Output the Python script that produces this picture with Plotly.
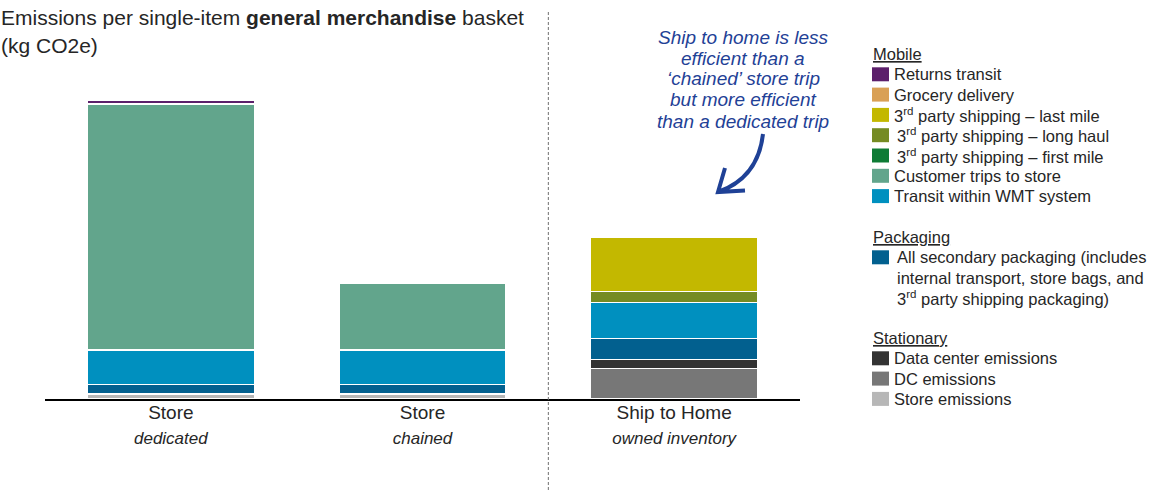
import plotly.graph_objects as go

# ---------------- data ----------------
categories = ["Store dedicated", "Store chained", "Ship to Home"]
cat_main = ["Store", "Store", "Ship to Home"]
cat_sub = ["dedicated", "chained", "owned inventory"]

# series listed bottom -> top of stack (kg CO2e)
store_emissions = [0.05, 0.05, None]
dc_emissions = [None, None, 0.307]
data_center = [None, None, 0.09]
packaging = [0.095, 0.095, 0.207]
transit_wmt = [0.345, 0.345, 0.358]
customer_trips = [2.46, 0.667, None]
ship_first_mile = [None, None, None]
ship_long_haul = [None, None, 0.11]
ship_last_mile = [None, None, 0.543]
grocery_delivery = [None, None, None]
returns_transit = [0.04, None, None]

series = [
    ("Store emissions", store_emissions, "#b7b7b7", "Stationary"),
    ("DC emissions", dc_emissions, "#777777", "Stationary"),
    ("Data center emissions", data_center, "#333333", "Stationary"),
    ("All secondary packaging (includes<br>internal transport, store bags, and<br>3<sup>rd</sup> party shipping packaging)",
     packaging, "#02608f", "Packaging"),
    ("Transit within WMT system", transit_wmt, "#0090bf", "Mobile"),
    ("Customer trips to store", customer_trips, "#62a58c", "Mobile"),
    ("3<sup>rd</sup> party shipping – first mile", ship_first_mile, "#0e7b35", "Mobile"),
    ("3<sup>rd</sup> party shipping – long haul", ship_long_haul, "#758b23", "Mobile"),
    ("3<sup>rd</sup> party shipping – last mile", ship_last_mile, "#c3b800", "Mobile"),
    ("Grocery delivery", grocery_delivery, "#d9a055", "Mobile"),
    ("Returns transit", returns_transit, "#5c1f6b", "Mobile"),
]
legend_groups = ["Mobile", "Packaging", "Stationary"]

TXT = "#262626"
FONT = "Arial, Liberation Sans, sans-serif"

fig = go.Figure()
for name, vals, color, grp in series:
    fig.add_trace(go.Bar(
        x=categories, y=vals, name=name.replace("<br>", " "),
        marker=dict(color=color, line=dict(color="white", width=1.2)),
        legendgroup=grp, showlegend=False,
    ))

# plot area geometry (pixels) used for decorations
L, R, T, B = 45, 361, 10, 91
W = 1161 - L - R
H = 490 - T - B


def px(xp):
    return (xp - L) / W


def py(yp):
    return (490 - B - yp) / H


ticktext = [f"{m}<br><span style='font-size:17px'><i>{s}</i></span>" for m, s in zip(cat_main, cat_sub)]

fig.update_layout(
    width=1161, height=490,
    margin=dict(l=L, r=R, t=T, b=B),
    barmode="stack", bargap=0.337,
    plot_bgcolor="white", paper_bgcolor="white",
    font=dict(family=FONT, color=TXT, size=16),
    showlegend=False,
    xaxis=dict(
        tickmode="array", tickvals=categories, ticktext=ticktext,
        showline=True, linecolor="black", linewidth=2,
        ticks="", showgrid=False, zeroline=False,
        tickfont=dict(size=19, color=TXT, family=FONT),
        ticklabelstandoff=-5,
        range=[-0.5, 2.5],
    ),
    yaxis=dict(visible=False, range=[0, 3.89], showgrid=False, zeroline=False),
)

# divider
fig.add_shape(type="line", xref="x", yref="paper", x0=1.5, x1=1.5,
              y0=py(490), y1=py(12),
              line=dict(color="#6f6f6f", width=1, dash="3px,2px"))

# title
fig.add_annotation(xref="paper", yref="paper", x=px(-1), y=py(18), xanchor="left", yanchor="middle",
                   text="Emissions per single-item <b>general merchandise</b> basket",
                   showarrow=False, font=dict(size=21, color=TXT, family=FONT))
fig.add_annotation(xref="paper", yref="paper", x=px(-1), y=py(45), xanchor="left", yanchor="middle",
                   text="(kg CO2e)", showarrow=False, font=dict(size=21, color=TXT, family=FONT))

# ---------------- custom legend (grouped, top of stack first) ----------------
LEG_X = 872
ROW = 20.3
LEG_FONT = 16.5
group_top = {"Mobile": 54, "Packaging": 237, "Stationary": 338}
for g in legend_groups:
    y = group_top[g]
    fig.add_annotation(xref="paper", yref="paper", x=px(LEG_X - 1), y=py(y), xanchor="left", yanchor="middle",
                       text=f"<u>{g}</u>", showarrow=False,
                       font=dict(size=LEG_FONT, color=TXT, family=FONT))
    y += ROW
    for name, vals, color, grp in reversed(series):
        if grp != g:
            continue
        fig.add_shape(type="rect", xref="paper", yref="paper",
                      x0=px(LEG_X), x1=px(LEG_X + 17), y0=py(y + 7), y1=py(y - 7),
                      fillcolor=color, line=dict(width=0))
        lines = name.split("<br>")
        tx = LEG_X + 21 if len(lines) == 1 and "3<sup>" not in name or "last" in name else LEG_X + 24
        for i, ln in enumerate(lines):
            fig.add_annotation(xref="paper", yref="paper", x=px(tx - 1), y=py(y + i * ROW),
                               xanchor="left", yanchor="middle", text=ln, showarrow=False,
                               font=dict(size=LEG_FONT, color=TXT, family=FONT))
        y += ROW * len(lines)

# callout
BLUE = "#1f4196"
callout = ["Ship to home is less", "efficient than a", "‘chained’ store trip",
           "but more efficient", "than a dedicated trip"]
for i, ln in enumerate(callout):
    fig.add_annotation(xref="paper", yref="paper", x=px(743), y=py(37 + i * 21), xanchor="center",
                       yanchor="middle", text=f"<i>{ln}</i>", showarrow=False,
                       font=dict(size=19, color=BLUE, family=FONT))
fig.add_shape(type="path", xref="paper", yref="paper",
              path=(f"M {px(763)},{py(134)} Q {px(758)},{py(178)} {px(718)},{py(192)} "
                    f"M {px(725)},{py(168)} L {px(718)},{py(192)} L {px(745)},{py(190.5)}"),
              line=dict(color=BLUE, width=4))

fig.write_html("out.html")
